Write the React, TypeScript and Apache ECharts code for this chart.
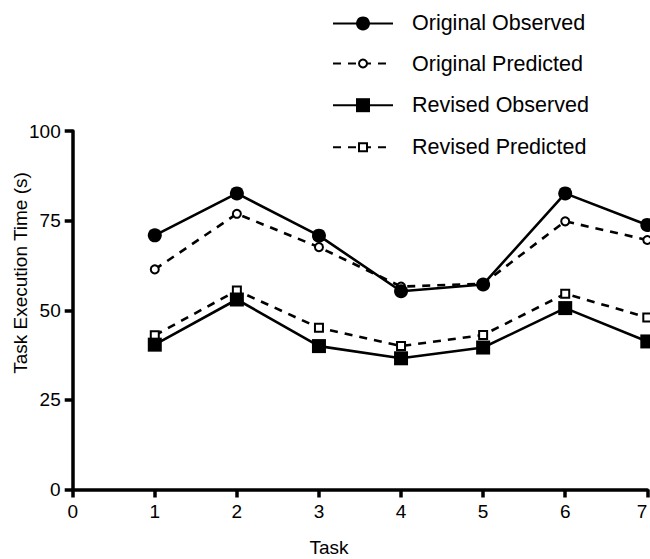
import React, { useEffect, useRef } from "react";
import * as echarts from "echarts";

const tasks = [1, 2, 3, 4, 5, 6, 7];
const originalObserved = [70.9, 82.6, 70.8, 55.3, 57.2, 82.6, 73.8];
const originalPredicted = [61.4, 76.9, 67.6, 56.6, 57.4, 74.8, 69.6];
const revisedObserved = [40.4, 53.0, 40.0, 36.6, 39.6, 50.6, 41.3];
const revisedPredicted = [43.0, 55.5, 45.1, 40.0, 43.1, 54.6, 48.0];
const xTicks = [0, 1, 2, 3, 4, 5, 6, 7];
const yTicks = [0, 25, 50, 75, 100];

const FONT = "'Liberation Sans', Arial, Helvetica, sans-serif";

export default function App() {
  const ref = useRef<HTMLDivElement>(null);
  useEffect(() => {
    if (!ref.current) return;
    const chart = echarts.init(ref.current, null, { renderer: "svg" });
    const pair = (vals: number[]) => tasks.map((t, i) => [t, vals[i]]);

    const solid = { color: "#000", width: 2.6, type: "solid" as const };
    const dashed = { color: "#000", width: 2.6, type: [8, 7] as any };

    const series: any[] = [
      {
        name: "Revised Predicted",
        type: "line",
        data: pair(revisedPredicted),
        symbol: "rect",
        symbolSize: 8,
        lineStyle: dashed,
        itemStyle: { color: "#fff", borderColor: "#000", borderWidth: 2 },
        z: 2,
      },
      {
        name: "Original Predicted",
        type: "line",
        data: pair(originalPredicted),
        symbol: "circle",
        symbolSize: 8,
        lineStyle: dashed,
        itemStyle: { color: "#fff", borderColor: "#000", borderWidth: 2 },
        z: 2,
      },
      {
        name: "Revised Observed",
        type: "line",
        data: pair(revisedObserved),
        symbol: "rect",
        symbolSize: 14,
        lineStyle: solid,
        itemStyle: { color: "#000" },
        z: 3,
      },
      {
        name: "Original Observed",
        type: "line",
        data: pair(originalObserved),
        symbol: "circle",
        symbolSize: 14,
        lineStyle: solid,
        itemStyle: { color: "#000" },
        z: 3,
      },
    ];

    const legendRows = [
      { name: "Original Observed", ih: 17.5, top: 12.4 },
      { name: "Original Predicted", ih: 10, top: 52.5 },
      { name: "Revised Observed", ih: 17.5, top: 94.2 },
      { name: "Revised Predicted", ih: 10, top: 136.2 },
    ];

    const legend = legendRows.map((r) => ({
      data: [r.name],
      orient: "vertical",
      left: 332,
      top: r.top,
      padding: 0,
      itemWidth: 60,
      itemHeight: r.ih,
      selectedMode: false,
      textStyle: {
        fontFamily: FONT,
        fontSize: 21.5,
        color: "#000",
        padding: [0, 0, 0, 14],
      },
    }));

    chart.setOption({
      animation: false,
      backgroundColor: "#fff",
      textStyle: { fontFamily: FONT },
      legend,
      grid: {
        left: 72.7,
        right: 2.7,
        top: 131,
        bottom: 69.5,
        containLabel: false,
        outerBoundsMode: "none",
      },
      xAxis: {
        type: "value",
        min: xTicks[0],
        max: xTicks[xTicks.length - 1],
        interval: 1,
        splitLine: { show: false },
        axisLine: { lineStyle: { color: "#000", width: 3.5 } },
        axisTick: { length: 8, lineStyle: { color: "#000", width: 3.5 } },
        axisLabel: {
          color: "#000",
          fontSize: 19,
          fontFamily: FONT,
          margin: 12,
          showMaxLabel: true,
          showMinLabel: true,
          alignMaxLabel: "right",
        },
      },
      yAxis: {
        type: "value",
        min: yTicks[0],
        max: yTicks[yTicks.length - 1],
        interval: 25,
        splitLine: { show: false },
        axisLine: { show: true, lineStyle: { color: "#000", width: 3.5 } },
        axisTick: { show: true, length: 8, lineStyle: { color: "#000", width: 3.5 } },
        axisLabel: {
          color: "#000",
          fontSize: 19,
          fontFamily: FONT,
          margin: 12,
          showMaxLabel: true,
          showMinLabel: true,
        },
      },
      graphic: [
        {
          type: "text",
          x: 20,
          y: 273,
          rotation: Math.PI / 2,
          style: {
            text: "Task Execution Time (s)",
            fontSize: 19,
            fontFamily: FONT,
            fill: "#000",
            align: "center",
            verticalAlign: "middle",
          },
        },
        {
          type: "text",
          x: 329,
          y: 547,
          style: {
            text: "Task",
            fontSize: 19,
            fontFamily: FONT,
            fill: "#000",
            align: "center",
            verticalAlign: "middle",
          },
        },
      ],
      series,
    });
    return () => chart.dispose();
  }, []);
  return (
    <div
      ref={ref}
      style={{ position: "fixed", left: 0, top: 0, width: 650, height: 559 }}
    />
  );
}
